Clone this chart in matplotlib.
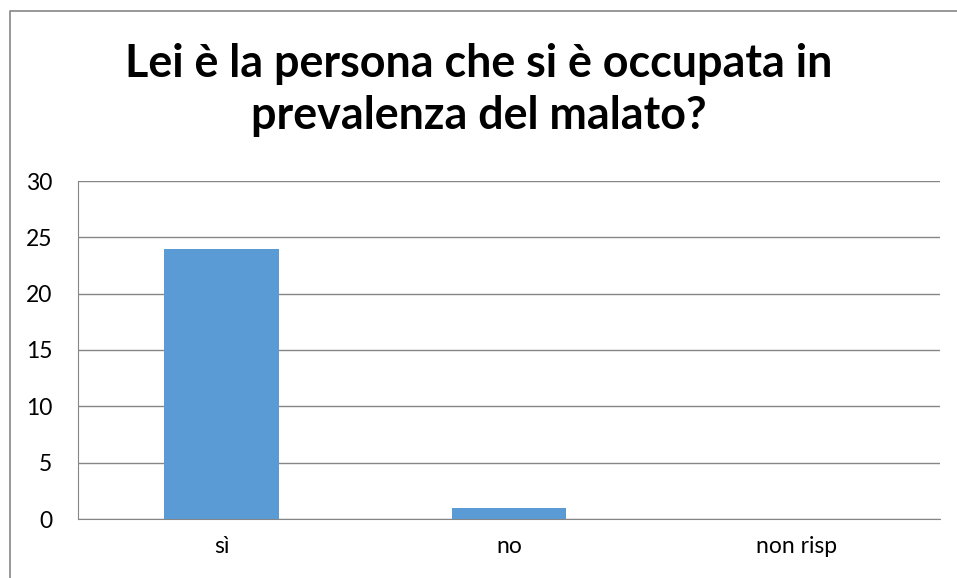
import matplotlib.pyplot as plt
from matplotlib.lines import Line2D

categories = ['sì', 'no', 'non risp']
values = [24, 1, 0]
yticks = [0, 5, 10, 15, 20, 25, 30]
title_lines = ['Lei è la persona che si è occupata in', 'prevalenza del malato?']

plt.rcParams['font.family'] = ['Lato', 'DejaVu Sans']

fig = plt.figure(figsize=(9.57, 5.78), dpi=100)
W, H = 957, 578

# chart border (only left and top visible in the crop)
fig.lines.append(Line2D([9.5 / W, 9.5 / W, 1.0], [0.0, 1 - 10.5 / H, 1 - 10.5 / H],
                        transform=fig.transFigure, color='#868686', linewidth=1.2))

ax = fig.add_axes([78 / W, (H - 519) / H, (940 - 78) / W, (519 - 181) / H])
x = range(len(categories))
ax.bar(x, values, width=0.4, color='#5b9bd5', zorder=3)

ax.set_xlim(-0.5, len(categories) - 0.5)
ax.set_ylim(0, 30)
ax.set_yticks(yticks)
ax.set_xticks(list(x))
ax.set_xticklabels(categories)
ax.tick_params(length=0, labelsize=16.5, pad=12)
ax.tick_params(axis='y', pad=18.5)
ax.grid(axis='y', color='#868686', linewidth=1, zorder=0)
for s in ['top', 'right']:
    ax.spines[s].set_visible(False)
for s in ['left', 'bottom']:
    ax.spines[s].set_color('#868686')

for line, ybase in zip(title_lines, [77, 129]):
    fig.text(0.5, 1 - ybase / H, line, ha='center', va='baseline',
             fontsize=32.3, fontweight='bold', color='black')

fig.savefig('out.png', dpi=100)
